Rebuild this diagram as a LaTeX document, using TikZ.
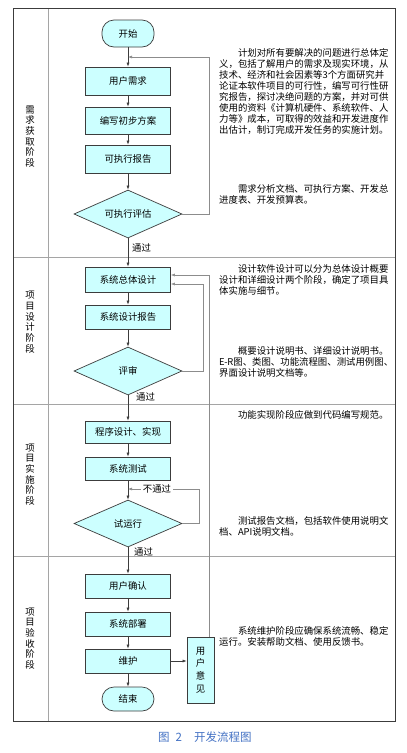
\documentclass[tikz,border=0pt]{standalone}
\usepackage{fontspec}
\setmainfont{Noto Sans CJK SC}
\usetikzlibrary{shapes.geometric,arrows.meta}
\definecolor{boxfill}{RGB}{204,255,255}
\definecolor{lineDark}{RGB}{60,60,60}
\definecolor{lineGray}{RGB}{140,140,140}
\definecolor{sepGray}{RGB}{165,165,165}
\definecolor{capBlue}{RGB}{68,114,196}
\newcommand\lblfont{\fontsize{9.4pt}{11pt}\selectfont}
\newcommand\descfont{\fontsize{9.4pt}{11pt}\selectfont}
\newcommand\stagefont{\fontsize{9.4pt}{10.7pt}\selectfont}
\newcommand\uvfont{\fontsize{9.4pt}{12.7pt}\selectfont}
\newcommand\capfont{\fontsize{11.5pt}{13pt}\selectfont}
\begin{document}
\begin{tikzpicture}[x=1pt,y=-1pt,
  every node/.style={inner sep=0pt},
  proc/.style={draw=lineDark, line width=0.7pt, fill=boxfill, minimum width=85pt, font=\lblfont},
  term/.style={draw=lineDark, line width=0.7pt, fill=boxfill, rounded corners=12pt, minimum width=52pt, minimum height=27pt, font=\lblfont},
  decision/.style={diamond, aspect=2.25, draw=lineDark, line width=0.7pt, fill=boxfill, minimum width=108pt, minimum height=48pt, font=\lblfont},
  arr/.style={draw=lineDark, line width=0.6pt, -{Latex[length=4pt,width=3pt]}},
  fb/.style={draw=lineGray, line width=0.6pt, -{Latex[length=4pt,width=3pt]}},
  desc/.style={anchor=north west, text width=182pt, align=left, font=\descfont},
  stage/.style={align=center, font=\stagefont},
  passlbl/.style={font=\lblfont},
  sepline/.style={draw=sepGray, line width=0.8pt},
  frameline/.style={draw=lineDark, line width=0.8pt},
  capnode/.style={font=\capfont, text=capBlue}]
\fill[white] (0,0) rectangle (407,753);
\useasboundingbox (0,0) rectangle (407,753);

% frame and lanes
\draw[sepline] (13,257) -- (395,257);
\draw[sepline] (13,404) -- (395,404);
\draw[sepline] (13,556) -- (395,556);
\draw[sepline] (48,8) -- (48,721);
\draw[frameline] (13,8) rectangle (395,721);

% stage labels
\node[stage] (s1) at (30,136.5) {需\\求\\获\\取\\阶\\段};
\node[stage] (s2) at (30,322) {项\\目\\设\\计\\阶\\段};
\node[stage] (s3) at (30,474.5) {项\\目\\实\\施\\阶\\段};
\node[stage] (s4) at (30,638.5) {项\\目\\验\\收\\阶\\段};

% flow nodes
\node[term] (start) at (128,33.5) {开始};
\node[proc, minimum height=28pt] (n1) at (128,81) {用户需求};
\node[proc, minimum height=27pt] (n2) at (128,120.5) {编写初步方案};
\node[proc, minimum height=28pt] (n3) at (128,159) {可执行报告};
\node[decision] (d1) at (128,214) {可执行评估};

\node[proc, minimum height=25pt] (n4) at (128,279.5) {系统总体设计};
\node[proc, minimum height=24pt] (n5) at (128,317) {系统设计报告};
\node[decision] (d2) at (128,371) {评审};

\node[proc, minimum height=22pt] (n6) at (128,432) {程序设计、实现};
\node[proc, minimum height=23pt] (n7) at (128,468.5) {系统测试};
\node[decision, minimum height=47pt] (d3) at (128,523.5) {试运行};

\node[proc, minimum height=24pt] (n8) at (128,586) {用户确认};
\node[proc, minimum height=24pt] (n9) at (128,624) {系统部署};
\node[proc, minimum height=24pt] (n10) at (128,661) {维护};
\node[term, minimum height=24pt] (end) at (128,699) {结束};
\node[proc, minimum width=27pt, minimum height=66pt, align=center, font=\uvfont] (uv) at (200.5,670) {用\\户\\意\\见};

% main connectors
\draw[arr] (start) -- (n1);
\draw[arr] (n1) -- (n2);
\draw[arr] (n2) -- (n3);
\draw[arr] (n3) -- (d1);
\draw[arr] (d1) -- (n4);
\draw[arr] (n4) -- (n5);
\draw[arr] (n5) -- (d2);
\draw[arr] (d2) -- (n6);
\draw[arr] (n6) -- (n7);
\draw[arr] (n7) -- (d3);
\draw[arr] (d3) -- (n8);
\draw[arr] (n8) -- (n9);
\draw[arr] (n9) -- (n10);
\draw[arr] (n10) -- (end);
\draw[arr] (n10.east) -- (n10.east -| uv.west);

% feedback loops
\coordinate (k1) at (209,57);
\coordinate (k1e) at (128,57);
\draw[fb] (d1.east) -| (k1) -- (k1e);
\coordinate (k2) at (203,284);
\draw[fb] (d2.east) -| (k2) -- (k2 -| n4.east);
\coordinate (k3) at (209,275);
\draw[fb] (uv.north -| k3) -- (k3) -- (k3 -| n4.east);
\coordinate (k4) at (199,489);
\coordinate (k4e) at (128,489);
\draw[fb] (d3.east) -| (k4) -- (k4e);

% labels
\node[passlbl, anchor=west] (p1) at (132,248) {通过};
\node[passlbl, anchor=west] (p2) at (136,397) {通过};
\node[passlbl, anchor=west] (p3) at (134,552) {通过};
\node[passlbl, fill=white, inner xsep=2pt, inner ysep=1pt] (np) at (157,489) {不通过};

% descriptions
\node[desc] (t1) at (219,48) {\hspace*{2em}计划对所有要解决的问题进行总体定\\义，包括了解用户的需求及现实环境，从\\技术、经济和社会因素等3个方面研究并\\论证本软件项目的可行性，编写可行性研\\究报告，探讨决绝问题的方案，并对可供\\使用的资料《计算机硬件、系统软件、人\\力等》成本，可取得的效益和开发进度作\\出估计，制订完成开发任务的实施计划。};
\node[desc] (t2) at (219,184) {\hspace*{2em}需求分析文档、可执行方案、开发总\\进度表、开发预算表。};
\node[desc] (t3) at (219,264) {\hspace*{2em}设计软件设计可以分为总体设计概要\\设计和详细设计两个阶段，确定了项目具\\体实施与细节。};
\node[desc] (t4) at (219,346) {\hspace*{2em}概要设计说明书、详细设计说明书。\\\mbox{E\kern-0.3pt-\kern-0.3ptR}图、类图、功能流程图、测试用例图、\\界面设计说明文档等。};
\node[desc] (t5) at (219,410) {\hspace*{2em}功能实现阶段应做到代码编写规范。};
\node[desc] (t6) at (219,516) {\hspace*{2em}测试报告文档，包括软件使用说明文\\档、API说明文档。};
\node[desc] (t7) at (219,626) {\hspace*{2em}系统维护阶段应确保系统流畅、稳定\\运行。安装帮助文档、使用反馈书。};

% caption
\node[capnode, anchor=west] (cap) at (158,737) {图\hspace{6pt}2\hspace{12pt}开发流程图};
\end{tikzpicture}
\end{document}
